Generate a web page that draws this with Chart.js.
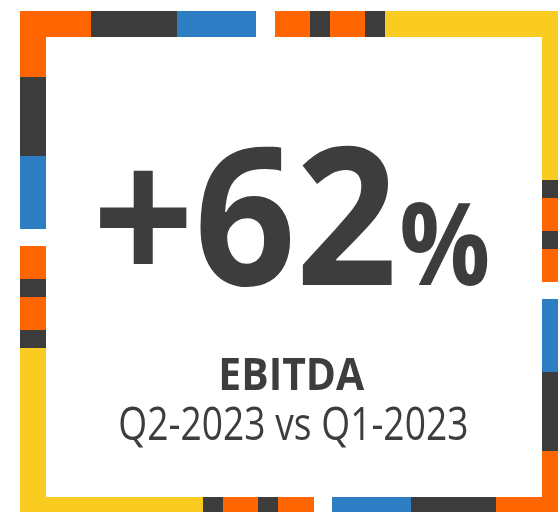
<!DOCTYPE html>
<html>
<head>
<meta charset="utf-8">
<script src="https://cdn.jsdelivr.net/npm/chart.js@4/dist/chart.umd.min.js"></script>
<style>
  html, body { margin: 0; padding: 0; background: #fff; }
  #wrap { width: 558px; height: 512px; }
</style>
</head>
<body>
<div id="wrap"><canvas id="kpiChart" width="558" height="512"></canvas></div>
<script>
// kpi texts
var kpiValue = '+62';
var kpiUnit = '%';
var kpiLabel = 'EBITDA';
var kpiPeriod = 'Q2-2023 vs Q1-2023';

// frame segments, in canvas units along each side
var topStart = [20, 91, 177, 275, 310, 330, 365, 385];
var topEnd = [91, 177, 256, 310, 330, 365, 385, 558];
var topColor = ['orange', 'dark', 'blue', 'orange', 'dark', 'orange', 'dark', 'yellow'];

var leftStart = [11, 77, 156, 246, 279, 297, 330, 348];
var leftEnd = [77, 156, 229, 279, 297, 330, 348, 512];
var leftColor = ['orange', 'dark', 'blue', 'orange', 'dark', 'orange', 'dark', 'yellow'];

var rightStart = [11, 180, 198, 231, 249, 299, 372, 451];
var rightEnd = [180, 198, 231, 249, 282, 372, 451, 512];
var rightColor = ['yellow', 'dark', 'orange', 'dark', 'orange', 'blue', 'dark', 'orange'];

var bottomStart = [20, 203, 223, 258, 278, 332, 411, 496];
var bottomEnd = [203, 223, 258, 278, 314, 411, 496, 558];
var bottomColor = ['yellow', 'dark', 'orange', 'dark', 'orange', 'blue', 'dark', 'orange'];

var palette = {
    orange: '#ff6600',
    dark: '#3c3c3c',
    blue: '#2e7ec6',
    yellow: '#facb20'
};
var textColor = '#3d3d3d';
var band = 26;

var datasets = [];

function addSide(starts, ends, colors, fixed, horizontal) {
    for (var i = 0; i < starts.length; i++) {
        var pts = horizontal
            ? [{x: starts[i], y: fixed}, {x: ends[i], y: fixed}]
            : [{x: fixed, y: starts[i]}, {x: fixed, y: ends[i]}];
        datasets.push({
            data: pts,
            showLine: true,
            borderColor: palette[colors[i]],
            borderWidth: band,
            borderCapStyle: 'butt',
            pointRadius: 0,
            pointHoverRadius: 0
        });
    }
}

addSide(topStart, topEnd, topColor, 24, true);
addSide(leftStart, leftEnd, leftColor, 33, false);
addSide(rightStart, rightEnd, rightColor, 555, false);
addSide(bottomStart, bottomEnd, bottomColor, 510, true);

// draws a text so that its ink fills the given box horizontally
function fitText(ctx, text, font, left, right, baseline) {
    ctx.font = font;
    ctx.textAlign = 'left';
    ctx.textBaseline = 'alphabetic';
    var m = ctx.measureText(text);
    var ink = m.actualBoundingBoxLeft + m.actualBoundingBoxRight;
    var s = (right - left) / ink;
    ctx.save();
    ctx.translate(left, baseline);
    ctx.scale(s, 1);
    ctx.fillText(text, m.actualBoundingBoxLeft, 0);
    ctx.restore();
}

var kpiText = {
    id: 'kpiText',
    afterDraw: function(chart) {
        var ctx = chart.ctx;
        ctx.save();
        ctx.fillStyle = textColor;
        fitText(ctx, kpiValue, 'bold 192px "Open Sans"', 100, 392, 285);
        fitText(ctx, kpiUnit, 'bold 114px "Open Sans"', 402, 488, 285);
        fitText(ctx, kpiLabel, 'bold 45px "Open Sans"', 222, 365, 390);
        fitText(ctx, kpiPeriod, '45px "Open Sans"', 120, 467, 440);
        ctx.restore();
    }
};

var ctx = document.getElementById('kpiChart').getContext('2d');
var kpiChart = new Chart(ctx, {
    type: 'scatter',
    data: { datasets: datasets },
    options: {
        responsive: false,
        animation: false,
        events: [],
        layout: { padding: 0 },
        scales: {
            x: { type: 'linear', min: 0, max: 558, display: false },
            y: { type: 'linear', min: 0, max: 512, reverse: true, display: false }
        },
        plugins: {
            legend: { display: false },
            tooltip: { enabled: false }
        }
    },
    plugins: [kpiText]
});
</script>
</body>
</html>
